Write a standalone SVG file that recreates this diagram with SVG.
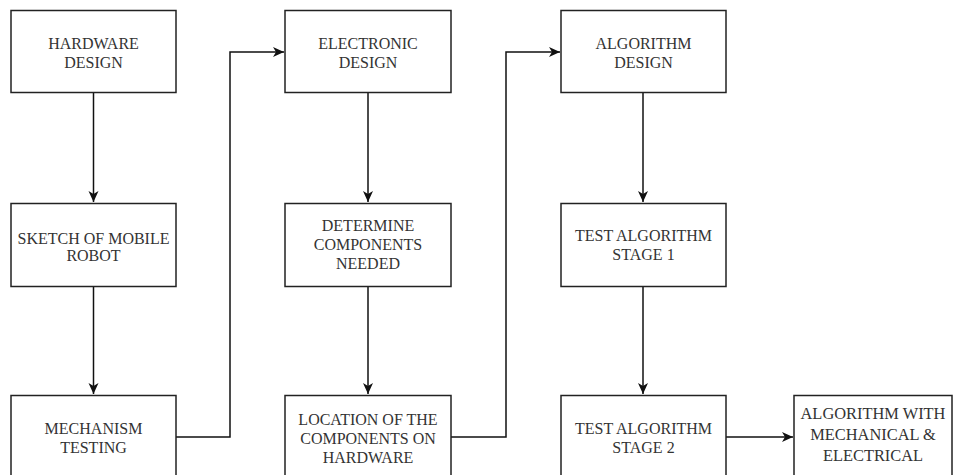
<svg xmlns="http://www.w3.org/2000/svg" width="953" height="475" viewBox="0 0 953 475">
<style>
.box{fill:#fff;stroke:#222;stroke-width:1.5}
.t{font-family:"Liberation Serif","Times New Roman",serif;font-size:16px;fill:#333;text-anchor:middle}
.c{fill:none;stroke:#111;stroke-width:1.5}
</style>
<defs>
<marker id="ah" markerUnits="userSpaceOnUse" markerWidth="11" markerHeight="11" viewBox="0 0 11 11" refX="11" refY="5.5" orient="auto">
<path d="M0,0.5 L11,5.5 L0,10.5 L3,5.5 z" fill="#111"/>
</marker>
</defs>
<rect width="953" height="475" fill="#fff"/>
<g id="connectors">
<path class="c" d="M93.5,92 V202" marker-end="url(#ah)"/>
<path class="c" d="M93.5,286 V394" marker-end="url(#ah)"/>
<path class="c" d="M176,437 H230 V52 H284" marker-end="url(#ah)"/>
<path class="c" d="M368,92 V202" marker-end="url(#ah)"/>
<path class="c" d="M368,286 V394" marker-end="url(#ah)"/>
<path class="c" d="M451,437 H506 V52 H560" marker-end="url(#ah)"/>
<path class="c" d="M643,92 V202" marker-end="url(#ah)"/>
<path class="c" d="M643,286 V394" marker-end="url(#ah)"/>
<path class="c" d="M726,437 H793" marker-end="url(#ah)"/>
</g>
<g id="hardware-design"><rect class="box" x="11" y="10.5" width="165" height="82"/><text class="t" x="93.5" y="48.5">HARDWARE</text><text class="t" x="93.5" y="67.5">DESIGN</text></g>
<g id="sketch"><rect class="box" x="11" y="203.5" width="165" height="83"/><text class="t" x="93.5" y="243.5">SKETCH OF MOBILE</text><text class="t" x="93.5" y="261">ROBOT</text></g>
<g id="mechanism"><rect class="box" x="11" y="395.5" width="165" height="83"/><text class="t" x="93.5" y="433.5">MECHANISM</text><text class="t" x="93.5" y="452.5">TESTING</text></g>
<g id="electronic-design"><rect class="box" x="285" y="10.5" width="166" height="82"/><text class="t" x="368" y="48.5">ELECTRONIC</text><text class="t" x="368" y="67.5">DESIGN</text></g>
<g id="determine"><rect class="box" x="285" y="203.5" width="166" height="83"/><text class="t" x="368" y="230.5">DETERMINE</text><text class="t" x="368" y="250">COMPONENTS</text><text class="t" x="368" y="269">NEEDED</text></g>
<g id="location"><rect class="box" x="285" y="395.5" width="166" height="83"/><text class="t" x="368" y="424.5">LOCATION OF THE</text><text class="t" x="368" y="443.5">COMPONENTS ON</text><text class="t" x="368" y="462.5">HARDWARE</text></g>
<g id="algorithm-design"><rect class="box" x="561" y="10.5" width="165" height="82"/><text class="t" x="643.5" y="48.5">ALGORITHM</text><text class="t" x="643.5" y="67.5">DESIGN</text></g>
<g id="stage1"><rect class="box" x="561" y="203.5" width="165" height="83"/><text class="t" x="643.5" y="240.5">TEST ALGORITHM</text><text class="t" x="643.5" y="260">STAGE 1</text></g>
<g id="stage2"><rect class="box" x="561" y="395.5" width="165" height="83"/><text class="t" x="643.5" y="433.5">TEST ALGORITHM</text><text class="t" x="643.5" y="452.5">STAGE 2</text></g>
<g id="final"><rect class="box" x="794" y="395.5" width="158" height="83"/><text class="t" x="873" y="418.5" style="font-size:16.4px">ALGORITHM WITH</text><text class="t" x="873" y="440" style="font-size:16.4px">MECHANICAL &amp;</text><text class="t" x="873" y="460.5" style="font-size:16.4px">ELECTRICAL</text></g>
</svg>
